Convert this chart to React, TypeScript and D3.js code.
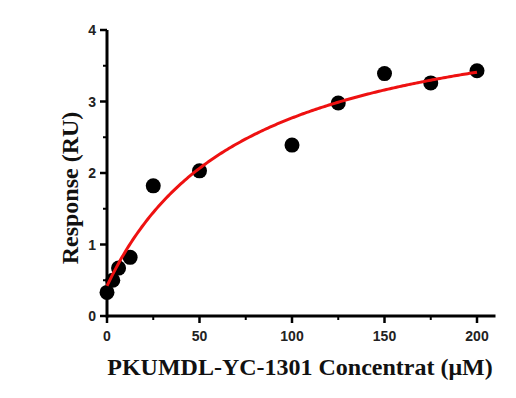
import React from "react";
import * as d3 from "d3";

const concentrations = [0, 3.125, 6.25, 12.5, 25, 50, 100, 125, 150, 175, 200];
const responses = [0.33, 0.5, 0.67, 0.82, 1.82, 2.03, 2.39, 2.98, 3.39, 3.26, 3.43];
const xTicks = [0, 50, 100, 150, 200];
const xMinorTicks = [25, 75, 125, 175];
const yTicks = [0, 1, 2, 3, 4];
const yMinorTicks = [0.5, 1.5, 2.5, 3.5];
// one-site binding fit: y = offset + Bmax * x / (Kd + x)
const fitOffset = 0.42;
const fitBmax = 4.11;
const fitKd = 74.9;

const W = 516;
const H = 398;

export default function App() {
  const x = d3.scaleLinear().domain([0, 200]).range([107, 477]);
  const y = d3.scaleLinear().domain([0, 4]).range([316, 30]);
  const xEnd = x(210);

  const curveX = d3.range(0, 200.01, 1);
  const line = d3
    .line<number>()
    .x((d) => x(d))
    .y((d) => y(fitOffset + (fitBmax * d) / (fitKd + d)))
    .curve(d3.curveLinear);

  const tickFont = "'Liberation Sans', Arial, sans-serif";
  const titleFont = "'Liberation Serif', 'Times New Roman', serif";

  return (
    <svg
      width={W}
      height={H}
      style={{ position: "absolute", left: 0, top: 0, background: "#fff" }}
    >
      {/* axes */}
      <line x1={x(0)} x2={xEnd} y1={y(0)} y2={y(0)} stroke="#000" strokeWidth={3} />
      <line x1={x(0)} x2={x(0)} y1={y(0) + 1.5} y2={y(4)} stroke="#000" strokeWidth={3} />
      {yTicks.map((t) => (
        <g key={"y" + t}>
          <line x1={x(0) - 7} x2={x(0)} y1={y(t)} y2={y(t)} stroke="#000" strokeWidth={2.5} />
          <text
            x={x(0) - 11}
            y={y(t)}
            dy="0.36em"
            textAnchor="end"
            fontFamily={tickFont}
            fontWeight="bold"
            fontSize={14}
            fill="#222"
          >
            {t}
          </text>
        </g>
      ))}
      {yMinorTicks.map((t) => (
        <line key={"ym" + t} x1={x(0) - 4} x2={x(0)} y1={y(t)} y2={y(t)} stroke="#000" strokeWidth={2} />
      ))}
      {xTicks.map((t) => (
        <g key={"x" + t}>
          <line x1={x(t)} x2={x(t)} y1={y(0)} y2={y(0) + 7} stroke="#000" strokeWidth={2.5} />
          <text
            x={x(t)}
            y={y(0) + 25}
            textAnchor="middle"
            fontFamily={tickFont}
            fontWeight="bold"
            fontSize={14}
            fill="#222"
          >
            {t}
          </text>
        </g>
      ))}
      {xMinorTicks.map((t) => (
        <line key={"xm" + t} x1={x(t)} x2={x(t)} y1={y(0)} y2={y(0) + 4} stroke="#000" strokeWidth={2} />
      ))}

      {/* data points */}
      {concentrations.map((c, i) => (
        <circle key={"p" + i} cx={x(c)} cy={y(responses[i])} r={7.5} fill="#000" />
      ))}

      {/* fit curve */}
      <path d={line(curveX) || ""} fill="none" stroke="#ee1111" strokeWidth={3} />

      {/* titles */}
      <text
        x={300}
        y={375}
        textAnchor="middle"
        fontFamily={titleFont}
        fontWeight="bold"
        fontSize={24}
        fill="#111"
      >
        PKUMDL-YC-1301 Concentrat (μM)
      </text>
      <text
        transform={`translate(78, 188) rotate(-90)`}
        textAnchor="middle"
        fontFamily={titleFont}
        fontWeight="bold"
        fontSize={24}
        fill="#111"
      >
        Response (RU)
      </text>
    </svg>
  );
}
